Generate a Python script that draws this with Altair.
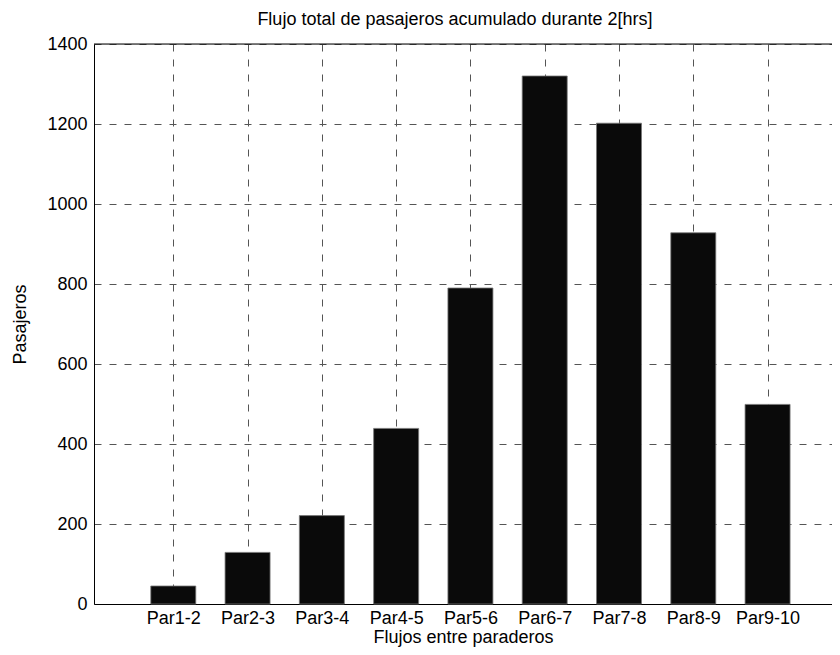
import altair as alt
import pandas as pd

categories = ["Par1-2", "Par2-3", "Par3-4", "Par4-5", "Par5-6", "Par6-7", "Par7-8", "Par8-9", "Par9-10"]
positions = [1, 2, 3, 4, 5, 6, 7, 8, 9]
values = [45, 129, 221, 439, 790, 1320, 1202, 928, 499]
y_ticks = [0, 200, 400, 600, 800, 1000, 1200, 1400]
y_max = [1400]

df = pd.DataFrame({"cat": categories, "pos": positions, "val": values})
top_df = pd.DataFrame({"val": y_max})

label_expr = "[" + ",".join("'" + c + "'" for c in categories) + "][datum.value - 1]"

FONT = "Liberation Sans"
FS = 18

x_scale = alt.Scale(domain=[0, 9.80], nice=False, zero=False)
y_scale = alt.Scale(domain=[0, 1400], nice=False)

bars = alt.Chart(df).mark_bar(size=45, color="#0a0a0a", stroke="#777777", strokeWidth=0.8).encode(
    x=alt.X("pos:Q", scale=x_scale,
            axis=alt.Axis(values=positions, labelExpr=label_expr, title="Flujos entre paraderos",
                          grid=True, gridDash=[7, 8], gridColor="#555555", gridWidth=1,
                          ticks=False, labelPadding=5, domainColor="black", domainWidth=1,
                          labelFont=FONT, labelFontSize=FS, labelColor="black",
                          titleFont=FONT, titleFontSize=FS, titleFontWeight="normal",
                          titleColor="black", titlePadding=1, labelAngle=0)),
    y=alt.Y("val:Q", scale=y_scale,
            axis=alt.Axis(values=y_ticks, title="Pasajeros", format="d",
                          grid=True, gridDash=[7, 8], gridColor="#555555", gridWidth=1,
                          ticks=False, labelPadding=7, domainColor="black", domainWidth=1,
                          labelFont=FONT, labelFontSize=FS, labelColor="black",
                          titleFont=FONT, titleFontSize=FS, titleFontWeight="normal",
                          titleColor="black", titlePadding=17)),
)

top_border = alt.Chart(top_df).mark_rule(color="black", strokeWidth=1).encode(
    y=alt.Y("val:Q", scale=y_scale)
)

chart = alt.layer(bars, top_border).properties(
    width=738,
    height=560,
    title=alt.TitleParams("Flujo total de pasajeros acumulado durante 2[hrs]",
                          font=FONT, fontSize=FS, fontWeight="normal", color="black",
                          anchor="middle", frame="group", offset=6, dx=-8),
    autosize=alt.AutoSizeParams(type="none"),
    padding={"left": 86, "top": 36, "right": 0, "bottom": 43},
).configure_view(stroke=None).configure(background="white")

chart.save("out.html", embed_options={"renderer": "svg", "actions": False})
